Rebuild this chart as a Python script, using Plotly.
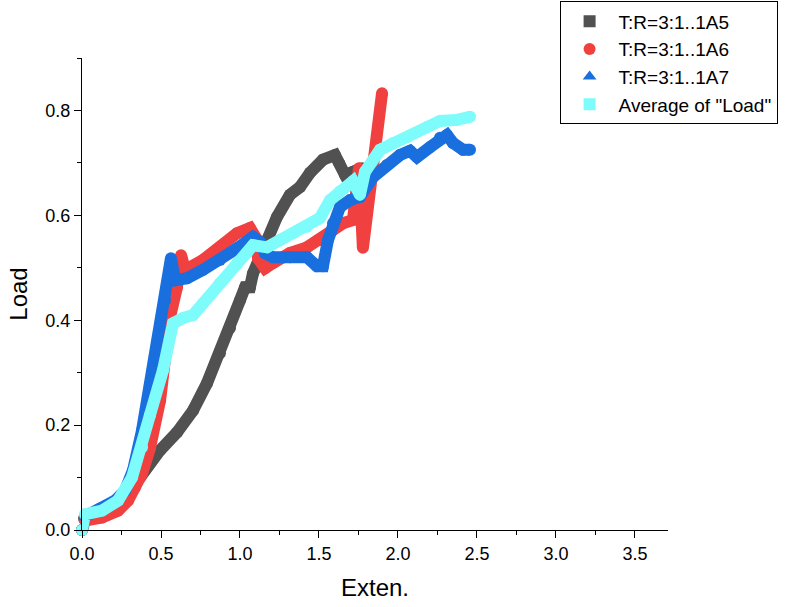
import plotly.graph_objects as go

# Extension / load readings for each specimen and their average
ext_a5 = [0, 0.013, 0.082, 0.177, 0.272, 0.367, 0.494, 0.601, 0.703, 0.791, 0.873, 0.937,
          1.000, 1.032, 1.063, 1.082, 1.171, 1.234, 1.316, 1.380, 1.443, 1.525, 1.601,
          1.627, 1.665, 1.715, 1.772]
load_a5 = [0, 0.022, 0.033, 0.047, 0.066, 0.100, 0.152, 0.186, 0.228, 0.280, 0.337, 0.385,
           0.438, 0.463, 0.463, 0.489, 0.553, 0.597, 0.639, 0.654, 0.681, 0.706, 0.715,
           0.700, 0.677, 0.683, 0.690]

ext_a6 = [0, 0.019, 0.127, 0.228, 0.291, 0.335, 0.380, 0.430, 0.494, 0.557, 0.601, 0.627,
          0.652, 0.766, 0.873, 0.981, 1.063, 1.101, 1.114, 1.158, 1.209, 1.316, 1.424,
          1.506, 1.589, 1.652, 1.715, 1.753, 1.772, 1.778, 1.899]
load_a6 = [0, 0.018, 0.024, 0.037, 0.056, 0.081, 0.108, 0.156, 0.247, 0.406, 0.463, 0.524,
           0.496, 0.515, 0.539, 0.566, 0.576, 0.557, 0.518, 0.499, 0.509, 0.528, 0.539,
           0.553, 0.572, 0.585, 0.591, 0.690, 0.620, 0.538, 0.833]

ext_a7 = [0, 0.019, 0.114, 0.209, 0.272, 0.323, 0.380, 0.462, 0.525, 0.563, 0.589, 0.665,
          0.766, 0.873, 0.981, 1.082, 1.127, 1.158, 1.209, 1.316, 1.424, 1.487, 1.525,
          1.557, 1.589, 1.633, 1.696, 1.759, 1.842, 1.930, 2.013, 2.076, 2.120, 2.203,
          2.266, 2.310, 2.348, 2.411, 2.456]
load_a7 = [0, 0.026, 0.041, 0.056, 0.075, 0.114, 0.190, 0.324, 0.438, 0.518, 0.476, 0.480,
           0.496, 0.515, 0.537, 0.559, 0.549, 0.528, 0.520, 0.520, 0.520, 0.503, 0.503,
           0.553, 0.585, 0.616, 0.629, 0.635, 0.673, 0.696, 0.715, 0.723, 0.711, 0.730,
           0.748, 0.753, 0.738, 0.725, 0.725]

ext_avg = [0, 0.019, 0.127, 0.228, 0.316, 0.380, 0.430, 0.513, 0.576, 0.639, 0.703, 0.766,
           0.873, 0.981, 1.044, 1.082, 1.171, 1.253, 1.335, 1.424, 1.506, 1.570, 1.633,
           1.715, 1.759, 1.791, 1.886, 1.968, 2.057, 2.184, 2.266, 2.373, 2.456]
load_avg = [0, 0.030, 0.037, 0.056, 0.100, 0.158, 0.219, 0.305, 0.394, 0.404, 0.410, 0.432,
            0.471, 0.509, 0.528, 0.543, 0.539, 0.553, 0.566, 0.578, 0.595, 0.629, 0.646,
            0.665, 0.639, 0.683, 0.725, 0.738, 0.749, 0.768, 0.780, 0.782, 0.788]

names = ["T:R=3:1..1A5", "T:R=3:1..1A6", "T:R=3:1..1A7", 'Average of "Load"']
colors = ["#515151", "#F14040", "#1A6FDF", "#7EFCFB"]
symbols = ["square", "circle", "triangle-up", "square"]
series = [(ext_a5, load_a5), (ext_a6, load_a6), (ext_a7, load_a7), (ext_avg, load_avg)]

FONT = "Liberation Sans, Arial, sans-serif"
BAND = 12  # stroke width of each load curve

fig = go.Figure()
for (xs, ys), name, color in zip(series, names, colors):
    # thick line; round dots at each reading smooth the joints and ends
    fig.add_trace(go.Scatter(
        x=xs, y=ys, mode="lines+markers", name=name, showlegend=False,
        line=dict(color=color, width=BAND),
        marker=dict(color=color, size=BAND, symbol="circle", line=dict(width=0)),
        cliponaxis=False, hoverinfo="x+y",
    ))

# Legend entries drawn as symbols
for name, color, sym in zip(names, colors, symbols):
    fig.add_trace(go.Scatter(
        x=[None], y=[None], mode="markers", name=name,
        marker=dict(color=color, symbol=sym, size=12),
    ))

fig.update_layout(
    width=792, height=607,
    margin=dict(l=82, r=124, t=58, b=77, autoexpand=False),
    paper_bgcolor="white", plot_bgcolor="white",
    font=dict(family=FONT, size=18, color="black"),
    legend=dict(
        x=0.815, y=1.12, xanchor="left", yanchor="top",
        bordercolor="black", borderwidth=1, bgcolor="white",
        font=dict(family=FONT, size=19, color="black"),
        tracegroupgap=0, itemsizing="constant", itemwidth=48,
    ),
    xaxis=dict(
        range=[0, 3.709], showgrid=False, zeroline=False,
        showline=True, linecolor="black", linewidth=1.3,
        ticks="outside", ticklen=7, tickwidth=1.3, tickcolor="black",
        tick0=0, dtick=0.5, tickformat=".1f",
        tickfont=dict(family=FONT, size=18),
        minor=dict(ticks="outside", ticklen=4, tickwidth=1.3, tickcolor="black", dtick=0.25),
        title=dict(text="Exten.", font=dict(family=FONT, size=24), standoff=16),
    ),
    yaxis=dict(
        range=[0, 0.9], showgrid=False, zeroline=False,
        showline=True, linecolor="black", linewidth=1.3,
        ticks="outside", ticklen=7, tickwidth=1.3, tickcolor="black",
        tick0=0, dtick=0.2, tickformat=".1f",
        tickfont=dict(family=FONT, size=18),
        minor=dict(ticks="outside", ticklen=4, tickwidth=1.3, tickcolor="black", dtick=0.1),
        title=dict(text="Load", font=dict(family=FONT, size=24), standoff=10),
    ),
)

fig.write_html("out.html")
